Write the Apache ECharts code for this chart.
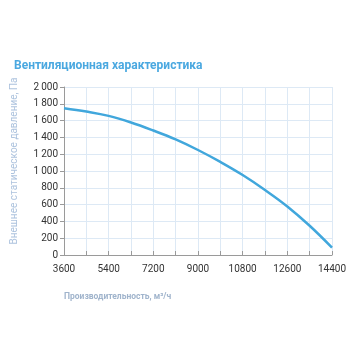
<!DOCTYPE html>
<html><head><meta charset="utf-8">
<script src="https://cdn.jsdelivr.net/npm/echarts@6/dist/echarts.min.js"></script>
<style>html,body{margin:0;padding:0;background:#fff}#c{width:356px;height:356px}</style>
</head><body><div id="c"></div>
<script>
const airflow = [3600, 4500, 5400, 6300, 7200, 8100, 9000, 9900, 10800, 11700, 12600, 13500, 14400];
const pressure = [1748, 1708, 1656, 1578, 1482, 1376, 1250, 1108, 952, 774, 578, 348, 88];
const titleText = 'Вентиляционная характеристика';
const xName = 'Производительность, м³/ч';
const yName = 'Внешнее статическое давление, Па';

const chart = echarts.init(document.getElementById('c'));
const fmt = v => String(v).replace(/\B(?=(\d{3})+(?!\d))/g, '\u2009');
chart.setOption({
  animation: false,
  title: {
    text: titleText, left: 9, top: 55,
    textStyle: {color: '#4aa8e0', fontSize: 12, fontWeight: 'bold', fontFamily: 'Roboto'}
  },
  grid: {left: 64, right: 24, top: 87, bottom: 101},
  xAxis: {
    type: 'value', min: 3600, max: 14400, interval: 900,
    name: xName, nameLocation: 'start', nameGap: 0,
    nameTextStyle: {color: '#a0b4cc', fontSize: 8.5, fontWeight: 'bold', align: 'left', verticalAlign: 'top', padding: [37, 0, 0, 0], fontFamily: 'Roboto'},
    axisLine: {lineStyle: {color: '#9a9a9a'}},
    axisTick: {inside: true, length: 4, lineStyle: {color: '#9a9a9a'}},
    axisLabel: {
      color: '#333', fontSize: 10, margin: 9, fontFamily: 'Roboto',
      formatter: v => ((v - 3600) % 1800 === 0 ? String(v) : '')
    },
    splitLine: {lineStyle: {color: '#dde9f5'}}
  },
  yAxis: {
    type: 'value', min: 0, max: 2000, interval: 200,
    name: yName, nameLocation: 'middle', nameGap: 45, nameRotate: 90,
    nameTextStyle: {color: '#adc3de', fontSize: 10, fontFamily: 'Roboto', padding: [0, 0, 0, 20]},
    axisLine: {show: true, lineStyle: {color: '#9a9a9a'}},
    axisTick: {show: true, length: 4, lineStyle: {color: '#9a9a9a'}},
    axisLabel: {color: '#333', fontSize: 10, margin: 6, fontFamily: 'Roboto', formatter: v => fmt(v)},
    splitLine: {lineStyle: {color: '#dde9f5'}}
  },
  series: [{
    type: 'line', smooth: 0.4, symbol: 'none',
    data: airflow.map((x, i) => [x, pressure[i]]),
    lineStyle: {color: '#41a7dc', width: 2.5}
  }]
});
</script></body></html>
